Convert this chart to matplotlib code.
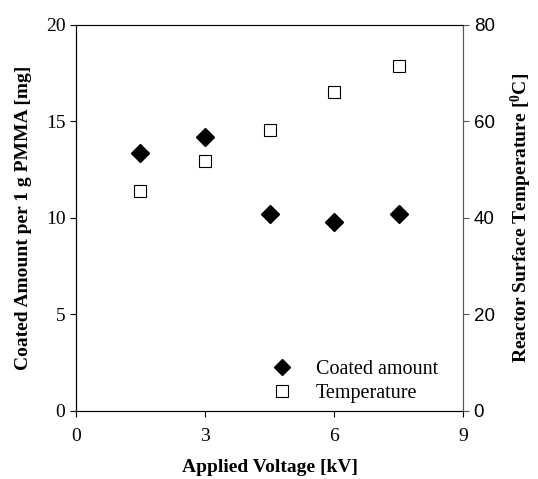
import numpy as np
import matplotlib
matplotlib.use("Agg")
import matplotlib.pyplot as plt
from matplotlib.lines import Line2D

# values
voltage = [1.5, 3.0, 4.5, 6.0, 7.5]
coated = [13.35, 14.2, 10.22, 9.78, 10.2]
temperature = [45.6, 51.7, 58.3, 66.2, 71.4]

serif = ["Liberation Serif", "DejaVu Serif"]
sans = ["Liberation Sans", "DejaVu Sans"]

plt.rcParams["mathtext.fontset"] = "custom"
plt.rcParams["mathtext.rm"] = "Liberation Serif"
plt.rcParams["mathtext.bf"] = "Liberation Serif:bold"

fig = plt.figure(figsize=(5.38, 4.79), dpi=100)
ax = fig.add_axes([0.141, 0.142, 0.720, 0.806])
ax2 = ax.twinx()

ax.plot(voltage, coated, linestyle="none", marker="D", markersize=9,
        color="black", label="Coated amount")
ax2.plot(voltage, temperature, linestyle="none", marker="s", markersize=9,
         markerfacecolor="white", markeredgecolor="black", markeredgewidth=0.8,
         label="Temperature")

ax.set_xlim(0, 9)
ax.set_ylim(0, 20)
ax2.set_ylim(0, 80)
ax.set_xticks([0, 3, 6, 9])
ax.set_yticks([0, 5, 10, 15, 20])
ax2.set_yticks([0, 20, 40, 60, 80])

for sp in ["left", "right", "top", "bottom"]:
    ax.spines[sp].set_linewidth(0.8)
    ax2.spines[sp].set_linewidth(0.8)
ax.spines["right"].set_color("#555555")
ax2.spines["right"].set_color("#555555")
ax.spines["top"].set_color("#555555")
ax.spines["bottom"].set_color("#555555")

ax.tick_params(direction="out", length=4, width=0.8, labelsize=14)
ax2.tick_params(direction="out", length=4, width=0.8, labelsize=13.5, color="#555555")
for lab in ax.get_xticklabels() + ax.get_yticklabels():
    lab.set_family(serif)
for lab in ax2.get_yticklabels():
    lab.set_family(sans)
ax.tick_params(axis="x", pad=8)

ax.set_xlabel("Applied Voltage [kV]", family=serif, fontweight="bold",
              fontsize=14, labelpad=10)
ax.set_ylabel("Coated Amount per 1 g PMMA [mg]", family=serif, fontweight="bold",
              fontsize=14, labelpad=10)
ax2.set_ylabel("Reactor Surface Temperature [$\\mathbf{^{0}}$C]", family=serif,
               fontweight="bold", fontsize=14, labelpad=10)

handles = [
    Line2D([], [], linestyle="none", marker="D", markersize=8, color="black"),
    Line2D([], [], linestyle="none", marker="s", markersize=8,
           markerfacecolor="white", markeredgecolor="black", markeredgewidth=0.8),
]
ax.legend(handles, ["Coated amount", "Temperature"], loc="lower left",
          frameon=False, prop={"family": serif, "size": 14.5},
          bbox_to_anchor=(0.506, 0.02), borderaxespad=0, borderpad=0,
          handlelength=1.0, handletextpad=1.2, labelspacing=0.25)

fig.savefig("out.png", dpi=100)
